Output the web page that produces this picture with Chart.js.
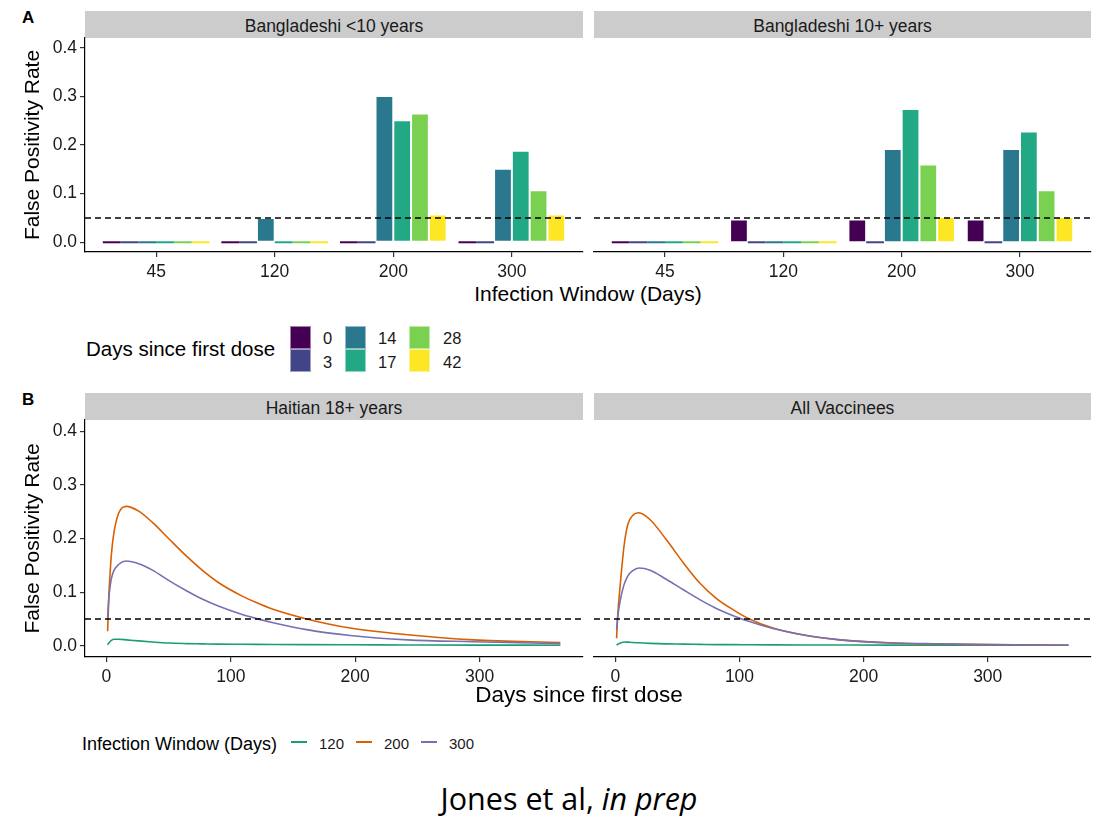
<!DOCTYPE html>
<html>
<head>
<meta charset="utf-8">
<script src="https://cdn.jsdelivr.net/npm/chart.js@4.4.1/dist/chart.umd.min.js"></script>
<style>
  body { margin: 0; background: #fff; font-family: "Liberation Sans", Arial, sans-serif; color: #1a1a1a; }
  #page { position: relative; width: 1104px; height: 816px; overflow: hidden; }
  .txt { position: absolute; line-height: 1; white-space: nowrap; }
  .tag { font-weight: bold; font-size: 17px; color: #000; }
  .strip { position: absolute; background: #cccccc; height: 27px; line-height: 30px; text-align: center; font-size: 17.5px; overflow: hidden; }
  .xtitle { width: 1006px; text-align: center; color: #000; }
  canvas { position: absolute; }
  .swatch { position: absolute; width: 21px; height: 23px; box-sizing: border-box; border: 1px solid rgba(255,255,255,0.5); }
  .key { position: absolute; width: 16px; height: 2px; }
  .caption { left: 0; width: 1138px; text-align: center; font-family: "Open Sans", sans-serif; font-size: 30.5px; color: #000; }
</style>
</head>
<body>
<div id="page">
  <div class="txt tag" style="left:22px;top:9px">A</div>
  <div class="strip" style="left:85px;top:11px;width:498px">Bangladeshi &lt;10 years</div>
  <div class="strip" style="left:594px;top:11px;width:497px">Bangladeshi 10+ years</div>
  <canvas id="barLeft" width="590" height="264" style="left:0;top:18px"></canvas>
  <canvas id="barRight" width="514" height="264" style="left:590px;top:18px"></canvas>
  <div class="txt xtitle" style="left:85px;top:283px;font-size:21px">Infection Window (Days)</div>
  <div class="txt" style="left:86px;top:339px;font-size:20.5px;color:#000">Days since first dose</div>
  <div id="doseLegend"></div>

  <div class="txt tag" style="left:22px;top:391px">B</div>
  <div class="strip" style="left:85px;top:393px;width:498px">Haitian 18+ years</div>
  <div class="strip" style="left:594px;top:393px;width:497px">All Vaccinees</div>
  <canvas id="lineLeft" width="590" height="287" style="left:0;top:400px"></canvas>
  <canvas id="lineRight" width="514" height="287" style="left:590px;top:400px"></canvas>
  <div class="txt xtitle" style="left:76px;top:684px;font-size:22.5px">Days since first dose</div>
  <div class="txt" style="left:82px;top:735px;font-size:18px;color:#000">Infection Window (Days)</div>
  <div id="windowLegend"></div>

  <div class="txt caption" style="top:783px">Jones et al, <i>in prep</i></div>
</div>

<script>
// bar panels: days since first dose (rows) x infection window (columns)
const WINDOWS = ['45', '120', '200', '300'];
const DOSE_DAYS = ['0', '3', '14', '17', '28', '42'];
const DOSE_COLORS = ['#440154', '#414487', '#2A788E', '#22A884', '#7AD151', '#FDE725'];

const bdUnder10 = [
  [0, 0, 0, 0],
  [0, 0, 0, 0],
  [0, 0.05, 0.301, 0.151],
  [0, 0, 0.251, 0.188],
  [0, 0, 0.265, 0.107],
  [0, 0, 0.057, 0.057]
];
const bd10Plus = [
  [0, 0.047, 0.047, 0.047],
  [0, 0, 0, 0],
  [0, 0, 0.192, 0.192],
  [0, 0, 0.274, 0.228],
  [0, 0, 0.160, 0.107],
  [0, 0, 0.052, 0.052]
];

// line panels: false positivity by days since first dose
const LINE_WINDOWS = ['120', '200', '300'];
const LINE_COLORS = ['#1B9E77', '#D95F02', '#7570B3'];

const haitianDays = [1, 2, 3, 4, 6, 10, 16, 26, 37, 50, 64, 77, 90, 108, 120, 134, 161, 196, 242, 295, 365];
const haitian120 = [0.002, 0.005, 0.008, 0.010, 0.012, 0.012, 0.011, 0.009, 0.007, 0.005, 0.004, 0.0035, 0.003, 0.0027, 0.0025, 0.0023, 0.002, 0.0018, 0.0015, 0.0012, 0.001];
const haitian200 = [0.027, 0.095, 0.136, 0.170, 0.210, 0.248, 0.260, 0.251, 0.230, 0.200, 0.168, 0.141, 0.118, 0.094, 0.081, 0.068, 0.050, 0.033, 0.0205, 0.011, 0.006];
const haitian300 = [0.052, 0.090, 0.111, 0.125, 0.140, 0.152, 0.158, 0.153, 0.141, 0.122, 0.103, 0.087, 0.074, 0.059, 0.051, 0.043, 0.030, 0.019, 0.011, 0.0075, 0.004];

const allDays = [1, 2, 4, 7, 10, 14, 19, 28, 41, 55, 68, 81, 95, 108, 127, 154, 181, 221, 261, 300, 365];
const all120 = [0.001, 0.003, 0.005, 0.007, 0.0068, 0.006, 0.0055, 0.0045, 0.0035, 0.003, 0.0025, 0.002, 0.002, 0.0018, 0.0016, 0.0014, 0.0013, 0.0012, 0.0011, 0.001, 0.001];
const all200 = [0.014, 0.060, 0.115, 0.186, 0.226, 0.243, 0.248, 0.235, 0.198, 0.154, 0.117, 0.089, 0.067, 0.050, 0.033, 0.019, 0.011, 0.005, 0.003, 0.002, 0.001];
const all300 = [0.030, 0.055, 0.085, 0.114, 0.130, 0.140, 0.145, 0.141, 0.124, 0.104, 0.086, 0.070, 0.056, 0.045, 0.032, 0.019, 0.011, 0.0055, 0.0035, 0.002, 0.001];

const Y_TICKS = [0, 0.1, 0.2, 0.3, 0.4];
const DAY_TICKS = [0, 100, 200, 300];
const THRESHOLD = 0.05;

Chart.defaults.font.family = '"Liberation Sans", Arial, sans-serif';
Chart.defaults.color = '#1a1a1a';

const tickFont = { size: 17.5 };

function axisLook() {
  return {
    border: { display: true, color: '#000', width: 1.2 },
    grid: { offset: false, drawOnChartArea: false, drawTicks: true, tickLength: 5, color: '#333', lineWidth: 1.2 }
  };
}

function yAxis(show, min, max) {
  return Object.assign(axisLook(), {
    display: show,
    min: min,
    max: max,
    afterBuildTicks: s => { s.ticks = Y_TICKS.map(v => ({ value: v })); },
    afterFit: s => { s.width = show ? 85 : 0; },
    ticks: { padding: 3, font: tickFont, color: '#1a1a1a', callback: v => v.toFixed(1) },
    title: { display: true, text: 'False Positivity Rate', font: { size: 21 }, color: '#000', padding: { top: 21, bottom: 0 } }
  });
}

function thresholdLine(x0, x1) {
  return {
    type: 'line',
    data: [{ x: x0, y: THRESHOLD }, { x: x1, y: THRESHOLD }],
    borderColor: '#000',
    borderWidth: 1.4,
    borderDash: [6, 4],
    pointRadius: 0,
    order: -1
  };
}

function barPanel(id, rows, showY, padLeft, padRight) {
  const datasets = DOSE_DAYS.map((d, i) => ({
    type: 'bar',
    label: d,
    data: rows[i].map((v, j) => ({ x: j + 1, y: v })),
    backgroundColor: DOSE_COLORS[i],
    borderColor: 'rgba(255,255,255,0.45)',
    borderWidth: c => (c.raw && c.raw.y > 0 ? 1 : 0),
    borderSkipped: false,
    minBarLength: 2,
    categoryPercentage: 0.9,
    barPercentage: 1
  }));
  datasets.push(thresholdLine(0.4, 4.6));

  new Chart(document.getElementById(id), {
    type: 'bar',
    data: { datasets: datasets },
    options: {
      responsive: false,
      animation: false,
      layout: { padding: { top: 20, left: padLeft, right: padRight, bottom: 0 } },
      plugins: { legend: { display: false }, tooltip: { enabled: false } },
      scales: {
        x: Object.assign(axisLook(), {
          type: 'linear',
          min: 0.4,
          max: 4.6,
          offset: false,
          afterBuildTicks: s => { s.ticks = WINDOWS.map((w, i) => ({ value: i + 1 })); },
          afterFit: s => { s.height = 30; },
          ticks: { padding: 5, font: tickFont, color: '#1a1a1a', maxRotation: 0, autoSkip: false, callback: v => WINDOWS[v - 1] }
        }),
        y: yAxis(showY, -0.02, 0.42)
      }
    }
  });
}

function linePanel(id, days, series, showY, padLeft, padRight) {
  const datasets = series.map((vals, i) => ({
    type: 'line',
    label: LINE_WINDOWS[i],
    data: vals.map((v, j) => ({ x: days[j], y: v })),
    borderColor: LINE_COLORS[i],
    borderWidth: 1.6,
    pointRadius: 0,
    cubicInterpolationMode: 'monotone',
    order: series.length - i
  }));
  datasets.push(thresholdLine(-17.2, 383.2));

  new Chart(document.getElementById(id), {
    type: 'line',
    data: { datasets: datasets },
    options: {
      responsive: false,
      animation: false,
      layout: { padding: { top: 20, left: padLeft, right: padRight, bottom: 0 } },
      plugins: { legend: { display: false }, tooltip: { enabled: false } },
      scales: {
        x: Object.assign(axisLook(), {
          type: 'linear',
          min: -17.2,
          max: 383.2,
          afterBuildTicks: s => { s.ticks = DAY_TICKS.map(v => ({ value: v })); },
          afterFit: s => { s.height = 30; },
          ticks: { padding: 5, font: tickFont, color: '#1a1a1a', maxRotation: 0, autoSkip: false }
        }),
        y: yAxis(showY, -0.021, 0.421)
      }
    }
  });
}

barPanel('barLeft', bdUnder10, true, 0, 7);
barPanel('barRight', bd10Plus, false, 4, 13);
linePanel('lineLeft', haitianDays, [haitian120, haitian200, haitian300], true, 0, 7);
linePanel('lineRight', allDays, [all120, all200, all300], false, 4, 13);

// legend for days since first dose: 3 columns x 2 rows
const doseLegend = document.getElementById('doseLegend');
const swatchX = [290, 345, 409];
const labelX = [323, 378, 443];
DOSE_DAYS.forEach((d, i) => {
  const col = Math.floor(i / 2), row = i % 2;
  const sw = document.createElement('div');
  sw.className = 'swatch';
  sw.style.left = swatchX[col] + 'px';
  sw.style.top = (326 + row * 23) + 'px';
  sw.style.background = DOSE_COLORS[i];
  doseLegend.appendChild(sw);
  const lb = document.createElement('div');
  lb.className = 'txt';
  lb.style.left = labelX[col] + 'px';
  lb.style.top = (330 + row * 24) + 'px';
  lb.style.fontSize = '16.5px';
  lb.textContent = d;
  doseLegend.appendChild(lb);
});

// legend for infection window lines
const windowLegend = document.getElementById('windowLegend');
const keyX = [291, 356, 421];
LINE_WINDOWS.forEach((w, i) => {
  const k = document.createElement('div');
  k.className = 'key';
  k.style.left = keyX[i] + 'px';
  k.style.top = '741px';
  k.style.background = LINE_COLORS[i];
  windowLegend.appendChild(k);
  const lb = document.createElement('div');
  lb.className = 'txt';
  lb.style.left = (keyX[i] + 28) + 'px';
  lb.style.top = '736px';
  lb.style.fontSize = '15px';
  lb.textContent = w;
  windowLegend.appendChild(lb);
});
</script>
</body>
</html>
